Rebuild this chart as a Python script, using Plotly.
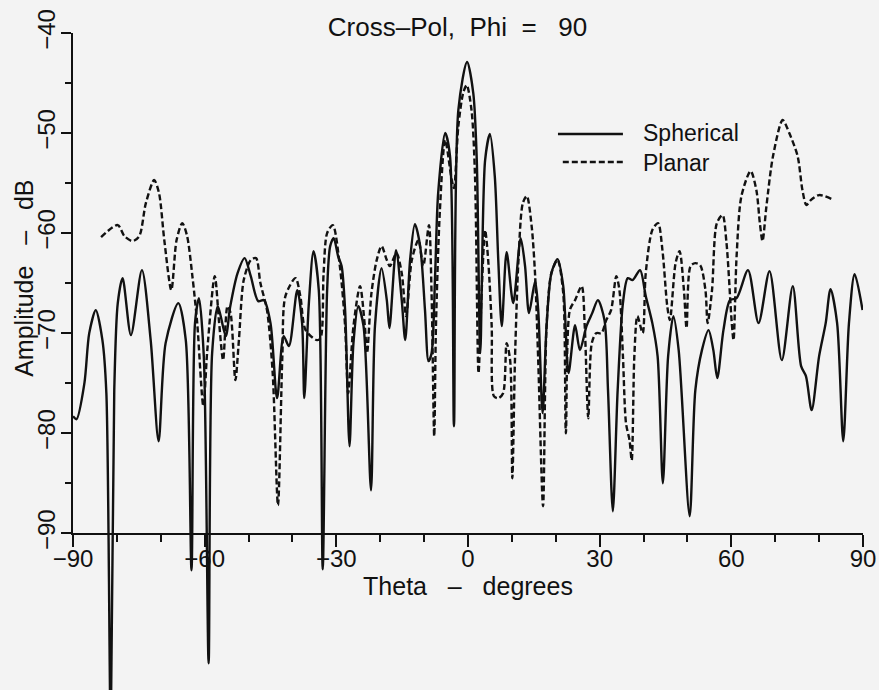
import plotly.graph_objects as go

# ---------------- data ----------------
sph_theta = [-90.0, -89.2, -87.4, -86.3, -84.8, -83.3, -82.4, -81.4, -80.6, -79.8, -78.7,
             -76.8, -74.3, -72.3, -70.5, -68.9, -66.0, -64.3, -63.0, -62.2, -61.3, -60.2,
             -59.1, -58.3, -57.0, -55.2, -54.2, -52.5, -50.9, -49.5, -47.8, -46.5, -45.0,
             -43.5, -42.0, -40.8, -38.9, -37.8, -37.3, -36.3, -35.2, -34.0, -33.1, -32.1,
             -31.4, -30.6, -29.6, -28.8, -28.0, -27.0, -26.1, -25.0, -23.8, -22.1, -21.2,
             -19.7, -18.5, -17.9, -16.4, -15.1, -14.3, -13.2, -12.1, -10.9, -9.8, -9.0,
             -8.3, -7.5, -6.8, -5.2, -4.1, -3.2, -2.2, -0.2, 1.2, 2.0, 2.8, 3.9, 5.0, 6.1,
             6.9, 7.7, 8.8, 10.3, 12.0, 13.0, 13.9, 15.3, 16.0, 17.0, 17.9, 19.0, 20.4,
             21.7, 22.9, 24.4, 25.5, 27.0, 28.3, 29.6, 31.1, 31.9, 33.0, 34.1, 35.3, 36.4,
             37.5, 39.2, 40.5, 42.0, 43.2, 44.4, 45.6, 46.8, 48.0, 50.5, 51.8, 53.3, 54.8,
             55.9, 56.8, 58.2, 59.7, 61.2, 63.8, 66.2, 68.7, 71.5, 74.0, 75.9, 77.0, 78.3,
             80.0, 81.5, 82.6, 84.1, 85.5, 86.8, 88.1, 89.9]
sph_db = [-78.3, -78.6, -75.0, -70.0, -67.7, -70.7, -76.0, -110.0, -75.7, -67.0, -64.5,
          -70.2, -63.7, -70.7, -80.8, -71.0, -67.0, -70.7, -93.7, -69.0, -66.5, -72.3,
          -103.0, -72.0, -67.3, -70.3, -67.4, -64.0, -62.5, -64.3, -66.8, -66.7, -69.0,
          -76.5, -70.3, -71.3, -65.7, -69.0, -76.5, -67.3, -61.8, -65.7, -93.6, -65.7,
          -61.3, -60.5, -62.3, -63.3, -67.7, -81.3, -71.0, -67.3, -69.3, -85.7, -69.3,
          -63.5, -66.7, -69.5, -61.7, -66.7, -70.7, -62.7, -59.1, -61.3, -67.7, -72.8,
          -72.0, -64.3, -56.0, -50.0, -52.3, -79.3, -47.7, -42.9, -46.0, -52.7, -72.0,
          -52.7, -50.1, -54.3, -62.7, -69.3, -61.9, -67.0, -60.5, -63.3, -68.0, -64.8,
          -67.7, -78.0, -69.3, -64.0, -62.6, -65.3, -74.0, -69.2, -71.7, -69.3, -68.0,
          -66.7, -68.7, -75.7, -87.8, -75.7, -67.0, -64.5, -64.7, -63.7, -66.3, -69.0,
          -72.3, -85.0, -72.3, -68.3, -71.7, -88.3, -75.7, -71.7, -69.7, -71.7, -74.5,
          -69.7, -66.7, -66.5, -63.7, -69.0, -63.8, -72.7, -65.3, -73.3, -74.3, -77.7,
          -72.3, -69.0, -65.6, -69.0, -80.8, -69.0, -64.1, -67.7]

pla_theta = [-83.6, -79.8, -78.3, -76.4, -74.9, -73.4, -71.5, -70.4, -69.2, -67.6, -66.4,
             -65.1, -64.0, -62.8, -61.7, -60.3, -59.4, -57.7, -56.7, -55.8, -54.8, -54.1,
             -53.0, -52.2, -51.1, -49.5, -48.3, -47.3, -45.8, -44.5, -43.3, -42.3, -41.6,
             -39.3, -38.2, -37.0, -34.4, -33.6, -32.9, -32.1, -30.8, -29.2, -28.0, -27.3,
             -26.1, -24.6, -23.5, -23.0, -22.0, -20.8, -19.7, -18.5, -17.8, -16.3, -15.1,
             -14.1, -12.8, -11.3, -10.2, -8.9, -8.3, -7.7, -7.3, -6.4, -5.2, -3.7, -3.2,
             -2.2, -1.1, -0.3, 0.8, 1.6, 2.4, 3.1, 3.9, 4.6, 5.4, 5.9, 6.9, 8.0, 8.8, 9.6,
             10.1, 10.7, 11.5, 12.5, 13.4, 14.5, 15.3, 16.0, 17.1, 17.9, 19.0, 20.4, 21.7,
             22.3, 23.2, 24.4, 25.9, 26.6, 27.4, 28.2, 29.2, 30.4, 31.5, 32.6, 33.8, 34.5,
             35.3, 36.0, 36.8, 37.3, 37.9, 38.6, 39.8, 40.5, 42.0, 43.3, 44.3, 45.4, 46.0,
             47.3, 48.2, 49.2, 49.8, 50.7, 51.8, 52.9, 54.1, 54.6, 55.6, 56.7, 58.0, 58.9,
             60.1, 60.5, 61.2, 62.3, 64.4, 65.7, 66.5, 67.1, 68.0, 69.5, 71.7, 73.2, 75.1,
             76.2, 77.1, 78.1, 80.0, 82.9]
pla_db = [-60.4, -59.2, -60.3, -60.8, -60.3, -57.0, -54.7, -56.0, -60.7, -65.7, -60.7,
          -59.0, -60.3, -64.3, -69.0, -77.3, -71.7, -64.3, -69.0, -72.7, -67.3, -68.0,
          -74.7, -70.7, -64.7, -62.7, -62.5, -65.0, -67.7, -74.0, -87.2, -72.3, -66.3,
          -64.5, -66.3, -69.7, -70.7, -70.5, -64.0, -60.0, -59.2, -63.3, -69.3, -76.0,
          -69.3, -65.3, -69.3, -72.0, -66.0, -62.7, -61.3, -62.7, -63.3, -62.0, -64.0,
          -68.3, -62.7, -60.7, -63.3, -59.2, -66.0, -80.3, -69.3, -57.7, -50.7, -54.7, -55.5,
          -49.3, -46.0, -45.2, -47.7, -54.3, -74.0, -66.0, -59.7, -62.7, -69.3, -76.3,
          -76.5, -76.0, -71.0, -72.7, -84.5, -72.7, -62.7, -57.0, -56.3, -59.3, -64.3,
          -72.7, -87.3, -69.3, -64.0, -62.7, -66.0, -80.0, -67.7, -66.7, -65.3, -69.3,
          -78.5, -71.0, -70.0, -70.0, -68.7, -67.7, -64.3, -65.7, -72.3, -79.0, -80.7,
          -82.7, -72.3, -68.3, -70.0, -64.0, -59.7, -59.0, -61.7, -67.3, -68.7, -63.0,
          -61.8, -65.7, -69.5, -63.3, -63.0, -63.2, -65.7, -69.0, -65.7, -59.0, -58.2,
          -61.0, -69.0, -70.7, -62.3, -56.3, -53.8, -55.7, -59.0, -60.8, -57.3, -52.3,
          -48.7, -50.0, -52.3, -55.7, -57.2, -56.7, -56.2, -56.6]

x_ticks = [-90, -60, -30, 0, 30, 60, 90]
y_ticks = [-90, -80, -70, -60, -50, -40]

# ---------------- figure ----------------
FONT = "Liberation Sans"
INK = "#111111"
BG = "#f3f3f3"
NB = "\u00a0"

fig = go.Figure()
fig.add_trace(go.Scatter(x=sph_theta, y=sph_db, mode="lines", name="Spherical",
                         line=dict(color=INK, width=2.4, shape="spline", smoothing=0.8),
                         showlegend=False, xaxis="x", yaxis="y"))
fig.add_trace(go.Scatter(x=pla_theta, y=pla_db, mode="lines", name="Planar",
                         line=dict(color=INK, width=2.4, dash="6px,3px", shape="spline", smoothing=0.8),
                         showlegend=False, xaxis="x", yaxis="y"))
# empty trace so the visible framed axes exist
fig.add_trace(go.Scatter(x=[], y=[], xaxis="x2", yaxis="y2", showlegend=False, hoverinfo="skip"))

H = 690
top, bot_axis = 33.3, 533.3
plot_h = H - top
dom0 = (H - bot_axis) / plot_h
y_bottom = -40 - 50.0 / (1 - dom0)

fig.update_layout(
    width=879, height=690,
    margin=dict(l=73, r=16, t=33, b=0, pad=0, autoexpand=False),
    paper_bgcolor=BG, plot_bgcolor="rgba(0,0,0,0)",
    font=dict(family=FONT, size=24, color=INK),
    title=dict(text=f"Cross–Pol,{NB*2}Phi{NB*2}={NB*3}90", x=457.5 / 879, xanchor="center",
               y=1 - 27 / H, yanchor="middle", font=dict(size=26)),
    xaxis=dict(domain=[0, 1], range=[-90, 90], visible=False),
    yaxis=dict(domain=[0, 1], range=[y_bottom, -40], visible=False),
    xaxis2=dict(domain=[0, 1], range=[-90, 90], anchor="y2",
                tickmode="array", tickvals=x_ticks, ticklabelstandoff=-9,
                ticks="outside", ticklen=12, tickwidth=2, tickcolor=INK,
                minor=dict(dtick=10, tick0=-90, ticks="outside", ticklen=7, tickwidth=2, tickcolor=INK),
                showline=True, linewidth=2, linecolor=INK, showgrid=False, zeroline=False,
                tickfont=dict(size=24),
                title=dict(text=f"Theta{NB*3}–{NB*3}degrees", font=dict(size=25), standoff=6)),
    yaxis2=dict(domain=[dom0, 1], range=[-90, -40], anchor="x2",
                tickmode="array", tickvals=y_ticks, tickangle=-90, ticklabelstandoff=-4,
                ticks="outside", ticklen=10, tickwidth=2, tickcolor=INK,
                minor=dict(dtick=5, tick0=-90, ticks="outside", ticklen=6, tickwidth=2, tickcolor=INK),
                showline=True, linewidth=2, linecolor=INK, showgrid=False, zeroline=False,
                tickfont=dict(size=24)),
)

# y-axis title placed as rotated text
fig.add_annotation(x=(24 - 73) / 790, y=(H - 279) / plot_h, xref="paper", yref="paper",
                   text=f"Amplitude{NB*3}–{NB*3}dB", textangle=-90, showarrow=False,
                   xanchor="center", yanchor="middle", font=dict(size=25))

# legend drawn as key lines + one two-line label block
fig.add_shape(type="line", xref="x2", yref="y2", x0=20.5, x1=35.3, y0=-50.1, y1=-50.1,
              line=dict(color=INK, width=2.4))
fig.add_shape(type="line", xref="x2", yref="y2", x0=21.6, x1=35.3, y0=-52.9, y1=-52.9,
              line=dict(color=INK, width=2.4, dash="6px,3px"))
fig.add_annotation(x=39.4, y=-51.5, xref="x2", yref="y2", text="Spherical<br>Planar",
                   showarrow=False, xanchor="left", yanchor="middle", align="left",
                   font=dict(size=23))

fig.write_html("out.html")
